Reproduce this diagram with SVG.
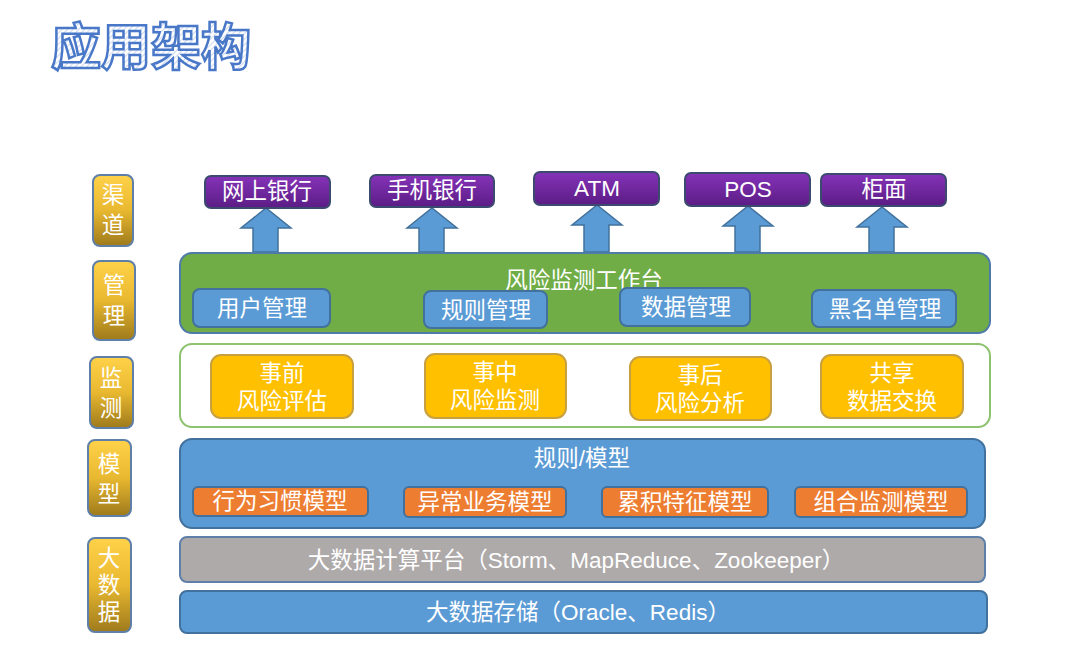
<svg xmlns="http://www.w3.org/2000/svg" width="1080" height="656" viewBox="0 0 1080 656">
<defs>
<linearGradient id="gold" x1="0" y1="0" x2="0" y2="1">
<stop offset="0" stop-color="#FFD24A"/><stop offset="0.5" stop-color="#E8B830"/><stop offset="1" stop-color="#9E7A1C"/>
</linearGradient>
<linearGradient id="purple" x1="0" y1="0" x2="0" y2="1">
<stop offset="0" stop-color="#8533B8"/><stop offset="1" stop-color="#5B1C85"/>
</linearGradient>
<pattern id="hatch" width="4" height="4" patternUnits="userSpaceOnUse" patternTransform="rotate(45)">
<rect width="4" height="4" fill="#FFFFFF"/>
<line x1="0" y1="0" x2="0" y2="4" stroke="#B9CCEB" stroke-width="1.5"/>
</pattern>
<style>
text{font-family:"Liberation Sans","Noto Sans CJK SC",sans-serif;fill:#FFFFFF;text-anchor:middle;dominant-baseline:central}
.side{fill:url(#gold);stroke:#5E7FA8;stroke-width:2}
.sl{font-size:22.5px}
.ch{fill:url(#purple);stroke:#3D4A70;stroke-width:2}
.chl{font-size:22.5px}
.blue{fill:#5B9BD5;stroke:#41719C;stroke-width:2}
.green{fill:#70AD47;stroke:#4E7BA8;stroke-width:2}
.yel{fill:#FFC000;stroke:#C9A040;stroke-width:2}
.org{fill:#ED7D31;stroke:#41719C;stroke-width:2}
.gray{fill:#AEAAAA;stroke:#5E7FA8;stroke-width:2}
.arrow{fill:#5B9BD5;stroke:#41719C;stroke-width:1.5}
.t22{font-size:22.5px}
</style>
</defs>
<rect width="1080" height="656" fill="#FFFFFF"/>
<text id="title" x="151" y="43" style="font-family:'Noto Sans CJK SC',sans-serif;font-size:50px;font-weight:bold;fill:url(#hatch);stroke:#4A78C8;stroke-width:2.5">应用架构</text>

<g id="label-qudao"><rect class="side" x="93" y="175" width="40" height="71" rx="7"/><text class="sl" x="113" y="195">渠</text><text class="sl" x="113" y="225">道</text></g>
<g id="label-guanli"><rect class="side" x="93" y="261" width="42" height="79" rx="7"/><text class="sl" x="114" y="285">管</text><text class="sl" x="114" y="316">理</text></g>
<g id="label-jiance"><rect class="side" x="90" y="357" width="43" height="71" rx="7"/><text class="sl" x="111" y="378">监</text><text class="sl" x="111" y="408">测</text></g>
<g id="label-moxing"><rect class="side" x="88" y="440" width="43" height="76" rx="7"/><text class="sl" x="109" y="464">模</text><text class="sl" x="109" y="494">型</text></g>
<g id="label-dashuju"><rect class="side" x="88" y="538" width="43" height="94" rx="7"/><text class="sl" x="109" y="558">大</text><text class="sl" x="109" y="585">数</text><text class="sl" x="109" y="612">据</text></g>

<g id="connectors">
<path class="arrow" d="M253,252 V228 H241 L266,208 L291,228 H278 V252 Z"/>
<path class="arrow" d="M419,252 V228 H407 L432,208 L457,228 H444 V252 Z"/>
<path class="arrow" d="M584,252 V225 H572 L597,205 L622,225 H609 V252 Z"/>
<path class="arrow" d="M735,252 V226 H723 L748,206 L773,226 H760 V252 Z"/>
<path class="arrow" d="M869,252 V227 H857 L882,207 L907,227 H894 V252 Z"/>
</g>

<g id="ch-wangshang"><rect class="ch" x="205" y="176" width="125" height="32" rx="6"/><text class="chl" x="267" y="191">网上银行</text></g>
<g id="ch-shouji"><rect class="ch" x="370" y="175" width="124" height="32" rx="6"/><text class="chl" x="432" y="190">手机银行</text></g>
<g id="ch-atm"><rect class="ch" x="534" y="172" width="125" height="33" rx="6"/><text class="chl" x="597" y="188">ATM</text></g>
<g id="ch-pos"><rect class="ch" x="685" y="173" width="125" height="33" rx="6"/><text class="chl" x="748" y="189">POS</text></g>
<g id="ch-guimian"><rect class="ch" x="821" y="174" width="125" height="32" rx="6"/><text class="chl" x="884" y="189">柜面</text></g>

<g id="workbench"><rect class="green" x="180" y="253" width="810" height="80" rx="12"/><text class="t22" x="584" y="280">风险监测工作台</text></g>
<g id="m-user"><rect class="blue" x="193" y="289" width="137" height="38" rx="7"/><text class="t22" x="262" y="308">用户管理</text></g>
<g id="m-rule"><rect class="blue" x="424" y="291" width="123" height="37" rx="7"/><text class="t22" x="486" y="310">规则管理</text></g>
<g id="m-data"><rect class="blue" x="620" y="288" width="130" height="38" rx="7"/><text class="t22" x="686" y="307">数据管理</text></g>
<g id="m-black"><rect class="blue" x="812" y="290" width="144" height="37" rx="7"/><text class="t22" x="885" y="309">黑名单管理</text></g>

<g id="monitor"><rect x="180" y="344" width="810" height="83" rx="12" fill="#FFFFFF" stroke="#8DC26F" stroke-width="2"/></g>
<g id="mo-pre"><rect class="yel" x="211" y="355" width="142" height="63" rx="10"/><text class="t22" x="282" y="373">事前</text><text class="t22" x="282" y="401">风险评估</text></g>
<g id="mo-mid"><rect class="yel" x="425" y="354" width="141" height="64" rx="10"/><text class="t22" x="495" y="372">事中</text><text class="t22" x="495" y="400">风险监测</text></g>
<g id="mo-post"><rect class="yel" x="630" y="357" width="141" height="63" rx="10"/><text class="t22" x="700" y="375">事后</text><text class="t22" x="700" y="403">风险分析</text></g>
<g id="mo-share"><rect class="yel" x="821" y="355" width="142" height="63" rx="10"/><text class="t22" x="892" y="373">共享</text><text class="t22" x="892" y="401">数据交换</text></g>

<g id="models"><rect class="blue" x="180" y="439" width="805" height="89" rx="12"/><text class="t22" x="582" y="458">规则/模型</text></g>
<g id="md-1"><rect class="org" x="193" y="487" width="175" height="29" rx="5"/><text class="t22" x="280" y="501">行为习惯模型</text></g>
<g id="md-2"><rect class="org" x="404" y="487" width="162" height="30" rx="5"/><text class="t22" x="485" y="502">异常业务模型</text></g>
<g id="md-3"><rect class="org" x="602" y="487" width="166" height="30" rx="5"/><text class="t22" x="685" y="502">累积特征模型</text></g>
<g id="md-4"><rect class="org" x="795" y="487" width="172" height="30" rx="5"/><text class="t22" x="881" y="502">组合监测模型</text></g>

<g id="compute"><rect class="gray" x="180" y="537" width="805" height="45" rx="7"/><text class="t22" x="576" y="560">大数据计算平台（Storm、MapReduce、Zookeeper）</text></g>
<g id="storage"><rect class="blue" x="180" y="591" width="807" height="42" rx="7"/><text class="t22" x="578" y="612">大数据存储（Oracle、Redis）</text></g>
</svg>
